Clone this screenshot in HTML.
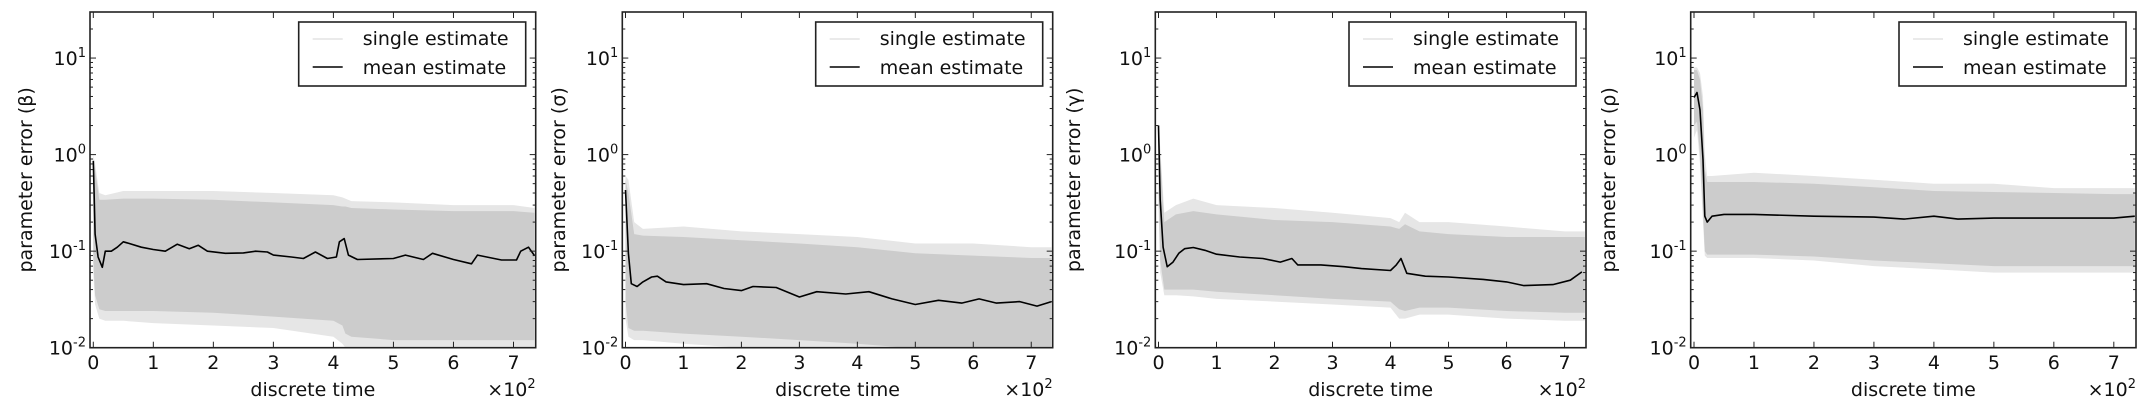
<!DOCTYPE html>
<html><head><meta charset="utf-8">
<style>
html,body{margin:0;padding:0;background:#fff;}
svg{display:block;font-family:"DejaVu Sans","Liberation Sans",sans-serif;}
</style></head>
<body>
<svg id="chart" width="2147" height="413" viewBox="0 0 2147 413" xmlns="http://www.w3.org/2000/svg"></svg>
<script>
// ---- data ----
const xTicks = [0,1,2,3,4,5,6,7];
const yTickExps = [-2,-1,0,1];
const yLabels = ["parameter error (\u03b2)","parameter error (\u03c3)","parameter error (\u03b3)","parameter error (\u03c1)"];

const meanT1 = [0,3,8,15,20,30,40,50,60,80,100,120,140,160,175,190,220,250,270,290,300,330,350,370,390,405,410,418,425,440,500,520,550,565,600,630,640,680,705,712,725,735];
const meanV1 = [0.86,0.15,0.087,0.068,0.1,0.1,0.11,0.125,0.12,0.11,0.104,0.1,0.118,0.106,0.115,0.1,0.095,0.096,0.1,0.098,0.091,0.087,0.084,0.098,0.084,0.087,0.125,0.135,0.091,0.082,0.084,0.091,0.082,0.095,0.082,0.074,0.091,0.081,0.081,0.1,0.11,0.09];
const meanT2 = [0,5,10,20,30,45,55,70,100,140,170,200,220,260,300,330,380,420,460,500,540,580,610,640,680,710,735];
const meanV2 = [0.43,0.095,0.046,0.043,0.048,0.054,0.055,0.048,0.045,0.046,0.041,0.039,0.043,0.042,0.0335,0.038,0.036,0.038,0.032,0.028,0.031,0.029,0.032,0.029,0.030,0.027,0.030];
const meanT3 = [0,3,8,12,15,25,35,45,60,80,100,140,180,210,230,240,280,320,350,400,410,418,428,460,500,560,600,630,680,710,730];
const meanV3 = [2.0,0.34,0.11,0.084,0.069,0.077,0.095,0.106,0.109,0.102,0.093,0.087,0.084,0.077,0.084,0.072,0.072,0.069,0.066,0.063,0.072,0.084,0.059,0.055,0.054,0.051,0.048,0.044,0.045,0.05,0.061];
const meanT4 = [0,5,10,15,18,22,30,50,100,200,300,350,400,440,500,600,700,735];
const meanV4 = [3.9,4.4,2.9,0.89,0.23,0.2,0.23,0.24,0.24,0.23,0.225,0.215,0.23,0.215,0.22,0.22,0.22,0.23];

// single-estimate envelopes: outer (faint traces) and core band
const envT1 = [0,3,10,20,50,100,200,300,400,415,420,430,500,600,700,735];
const outHi1 = [1.0,0.8,0.4,0.38,0.42,0.42,0.42,0.4,0.38,0.36,0.35,0.33,0.32,0.3,0.3,0.28];
const coreHi1 = [0.9,0.7,0.34,0.34,0.35,0.35,0.34,0.32,0.3,0.29,0.29,0.28,0.27,0.26,0.26,0.25];
const coreLo1 = [0.08,0.035,0.025,0.024,0.024,0.024,0.023,0.021,0.019,0.017,0.014,0.013,0.012,0.012,0.012,0.012];
const outLo1 = [0.06,0.028,0.02,0.019,0.019,0.018,0.017,0.016,0.013,0.011,0.01,0.01,0.01,0.01,0.01,0.01];
const envT2 = [0,5,15,30,100,200,300,400,500,600,700,735];
const outHi2 = [0.6,0.55,0.2,0.17,0.18,0.16,0.15,0.14,0.12,0.12,0.11,0.11];
const coreHi2 = [0.55,0.4,0.15,0.145,0.14,0.13,0.12,0.11,0.095,0.09,0.085,0.085];
const coreLo2 = [0.03,0.016,0.015,0.015,0.014,0.013,0.012,0.011,0.0098,0.0095,0.0095,0.0095];
const outLo2 = [0.02,0.013,0.012,0.012,0.011,0.01,0.0095,0.0095,0.0095,0.0095,0.0095,0.0095];
const envT3 = [0,3,10,30,60,100,200,300,400,415,425,450,500,600,700,735];
const outHi3 = [2.2,1.2,0.25,0.3,0.35,0.3,0.28,0.25,0.22,0.2,0.25,0.2,0.2,0.18,0.16,0.16];
const coreHi3 = [2.0,1.0,0.2,0.24,0.26,0.24,0.21,0.2,0.18,0.17,0.19,0.16,0.15,0.14,0.14,0.14];
const coreLo3 = [0.4,0.08,0.04,0.04,0.04,0.038,0.035,0.032,0.03,0.025,0.024,0.026,0.026,0.024,0.023,0.023];
const outLo3 = [0.3,0.06,0.035,0.035,0.034,0.032,0.03,0.028,0.026,0.02,0.02,0.022,0.022,0.02,0.019,0.019];
const envT4 = [0,5,10,15,18,22,30,100,200,300,400,500,600,700,735];
const outHi4 = [8,8,7,4,1,0.6,0.6,0.65,0.6,0.55,0.5,0.5,0.45,0.45,0.45];
const coreHi4 = [7.5,7.5,6,3,0.7,0.52,0.52,0.52,0.5,0.46,0.42,0.41,0.4,0.39,0.39];
const coreLo4 = [2.0,2.2,1.0,0.25,0.1,0.092,0.092,0.092,0.088,0.08,0.075,0.07,0.07,0.07,0.07];
const outLo4 = [1.5,1.8,0.8,0.2,0.09,0.085,0.085,0.085,0.08,0.07,0.065,0.06,0.06,0.06,0.06];

// ---- layout ----
const panels = [
  {l:90, r:535.7, yl:25, m:[meanT1,meanV1], e:[envT1,outHi1,coreHi1,coreLo1,outLo1]},
  {l:622.3, r:1052.7, yl:558, m:[meanT2,meanV2], e:[envT2,outHi2,coreHi2,coreLo2,outLo2]},
  {l:1155.3, r:1586, yl:1073, m:[meanT3,meanV3], e:[envT3,outHi3,coreHi3,coreLo3,outLo3]},
  {l:1690.7, r:2136, yl:1608, m:[meanT4,meanV4], e:[envT4,outHi4,coreHi4,coreLo4,outLo4]}
];
const TOP=12, BOT=347.7, XMIN=-5.5, XMAX=737, YMINL=-2, YMAXL=1.477;
const NS="http://www.w3.org/2000/svg";
const svg=document.getElementById('chart');
function mk(tag, attrs, parent){const e=document.createElementNS(NS,tag);for(const k in attrs)e.setAttribute(k,attrs[k]);(parent||svg).appendChild(e);return e;}

panels.forEach((p,pi)=>{
  const xs=t=>p.l+(t-XMIN)/(XMAX-XMIN)*(p.r-p.l);
  const ys=v=>BOT-(Math.log10(Math.max(v,1e-3))-YMINL)/(YMAXL-YMINL)*(BOT-TOP);
  const g=mk('g',{});
  
  
  const cid='clip'+pi;
  const cp=mk('clipPath',{id:cid},g); mk('rect',{x:p.l,y:TOP,width:p.r-p.l,height:BOT-TOP},cp);
  const plot=mk('g',{'clip-path':'url(#'+cid+')'},g);
  const [eT,oH,cH,cL,oL]=p.e;
  function band(hi,lo,fill,name){
    let d='M'+eT.map((t,i)=>xs(t).toFixed(1)+','+ys(hi[i]).toFixed(1)).join('L');
    for(let i=eT.length-1;i>=0;i--) d+='L'+xs(eT[i]).toFixed(1)+','+ys(lo[i]).toFixed(1);
    const b=mk('path',{d:d+'Z',fill:fill,stroke:'none'},plot);
    
    
  }
  band(oH,oL,'#e6e6e6','single-estimate-outer-band');
  band(cH,cL,'#cccccc','single-estimate-core-band');
  const [mT,mV]=p.m;
  const ml=mk('polyline',{points:mT.map((t,i)=>xs(t).toFixed(1)+','+ys(mV[i]).toFixed(1)).join(' '),fill:'none',stroke:'#000','stroke-width':1.6,'stroke-linejoin':'round'},plot);
  
  
  const fr=mk('rect',{x:p.l,y:TOP,width:p.r-p.l,height:BOT-TOP,fill:'none',stroke:'#222','stroke-width':1.6},g);
  
  
  xTicks.forEach(k=>{
    const x=xs(k*100);
    mk('line',{x1:x,y1:BOT,x2:x,y2:BOT-6,stroke:'#222','stroke-width':1},g);
    mk('line',{x1:x,y1:TOP,x2:x,y2:TOP+6,stroke:'#222','stroke-width':1},g);
    const tl=mk('text',{x:x,y:369,'font-size':19,'text-anchor':'middle',fill:'#111'},g);
    tl.textContent=k;
    
    
  });
  yTickExps.forEach(e=>{
    const y=ys(Math.pow(10,e));
    mk('line',{x1:p.l,y1:y,x2:p.l+6,y2:y,stroke:'#222','stroke-width':1},g);
    mk('line',{x1:p.r,y1:y,x2:p.r-6,y2:y,stroke:'#222','stroke-width':1},g);
    const tl=mk('text',{x:p.l-4,y:y+7,'font-size':19,'text-anchor':'end',fill:'#111'},g);
    
    
    const a=document.createElementNS(NS,'tspan');a.textContent='10';tl.appendChild(a);
    const s=document.createElementNS(NS,'tspan');s.setAttribute('dy','-8');s.setAttribute('font-size','13');s.textContent=String(e);tl.appendChild(s);
  });
  for(let e=-2;e<=1;e++){for(let m=2;m<=9;m++){const v=m*Math.pow(10,e);if(Math.log10(v)>YMAXL)continue;const y=ys(v);
    mk('line',{x1:p.l,y1:y,x2:p.l+3,y2:y,stroke:'#222','stroke-width':1},g);
    mk('line',{x1:p.r,y1:y,x2:p.r-3,y2:y,stroke:'#222','stroke-width':1},g);}}
  const xl=mk('text',{x:(p.l+p.r)/2,y:396,'font-size':19,'text-anchor':'middle',fill:'#111'},g);
  xl.textContent='discrete time';
  
  
  const mul=mk('text',{x:p.r,y:396,'font-size':19,'text-anchor':'end',fill:'#111'},g);
  
  
  const m1=document.createElementNS(NS,'tspan');m1.textContent='\u00d710';mul.appendChild(m1);
  const m2=document.createElementNS(NS,'tspan');m2.setAttribute('dy','-8');m2.setAttribute('font-size','13');m2.textContent='2';mul.appendChild(m2);
  const yl=mk('text',{x:0,y:0,'font-size':19,'text-anchor':'middle',fill:'#111',transform:'translate('+(p.yl+7)+','+((TOP+BOT)/2)+') rotate(-90)'},g);
  yl.textContent=yLabels[pi];
  
  
  const lx=p.r-237, ly=22;
  const lg=mk('g',{},g);
  
  
  mk('rect',{x:lx,y:ly,width:227,height:64,fill:'#fff',stroke:'#222','stroke-width':1.6},lg);
  mk('line',{x1:lx+14,y1:ly+17,x2:lx+44,y2:ly+17,stroke:'#dddddd','stroke-width':1.2},lg);
  mk('line',{x1:lx+14,y1:ly+45,x2:lx+44,y2:ly+45,stroke:'#000','stroke-width':1.6},lg);
  const t1=mk('text',{x:lx+64,y:ly+23,'font-size':19,fill:'#111'},lg);t1.textContent='single estimate';
  
  
  const t2=mk('text',{x:lx+64,y:ly+52,'font-size':19,fill:'#111'},lg);t2.textContent='mean estimate';
  
  
});
</script>
</body></html>
